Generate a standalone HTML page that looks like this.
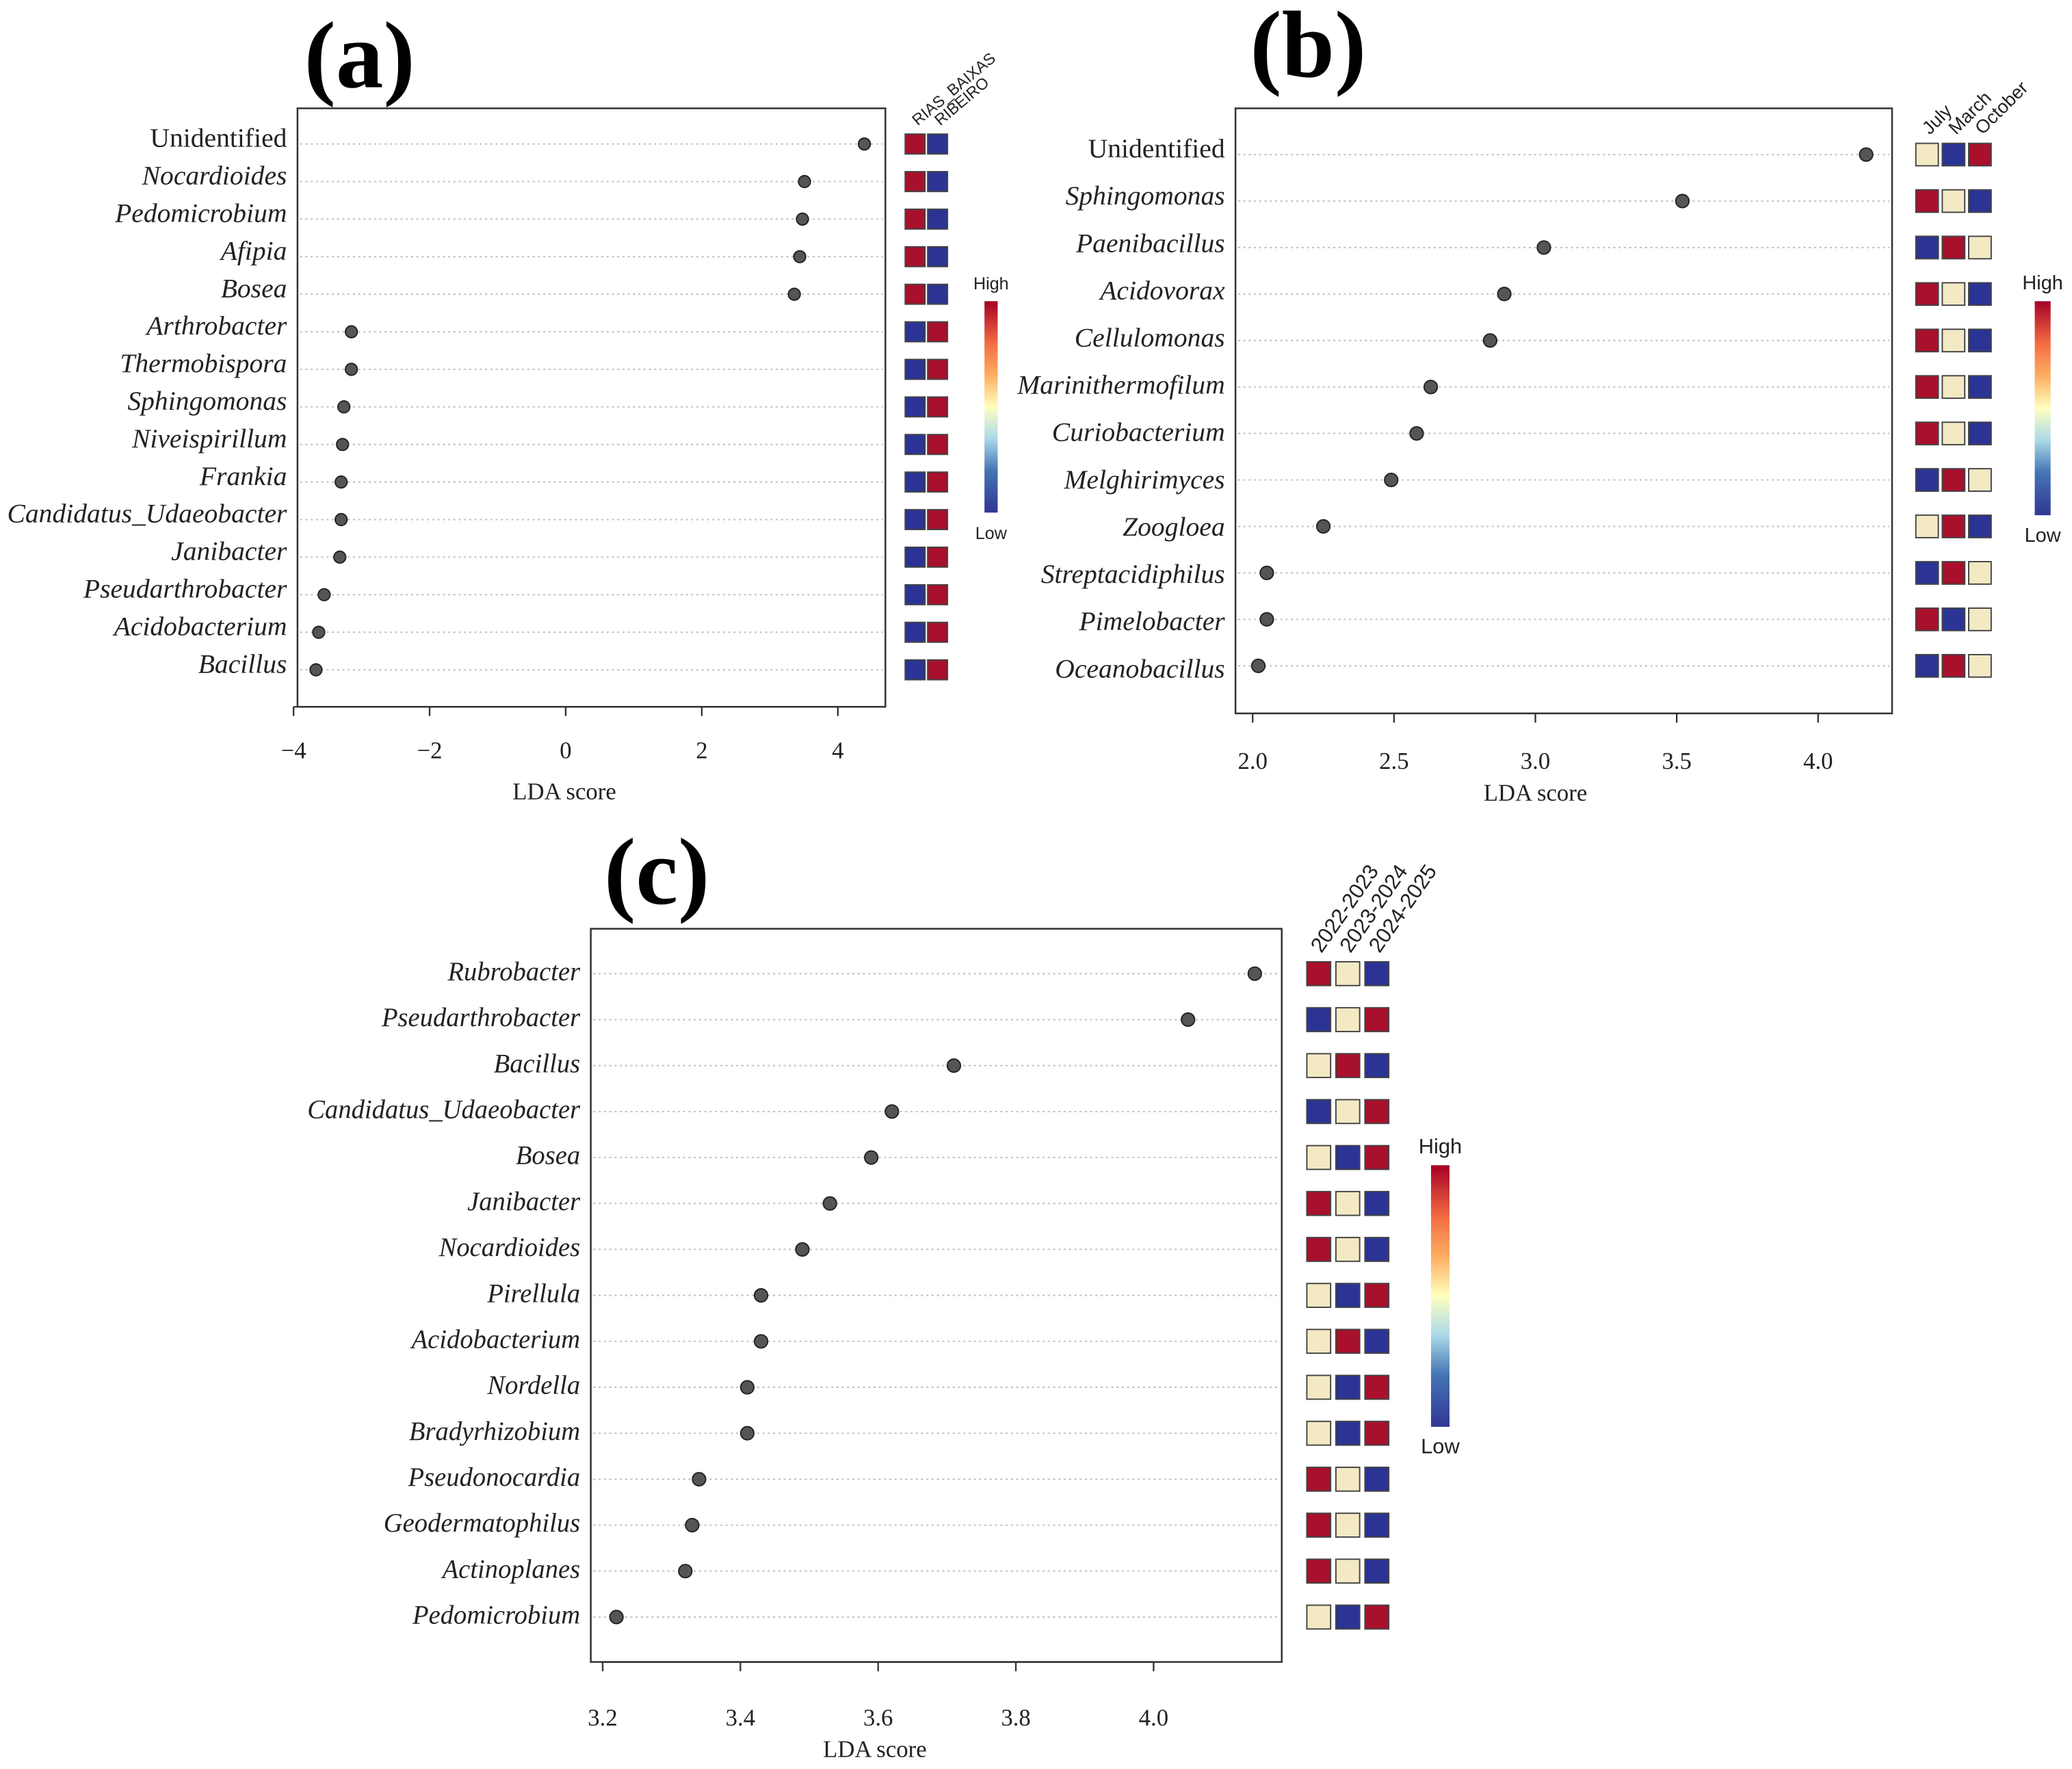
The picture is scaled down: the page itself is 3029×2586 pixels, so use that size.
<!DOCTYPE html>
<html><head><meta charset="utf-8"><style>
html,body{margin:0;padding:0;background:#fff}
svg{display:block}
text{font-family:"Liberation Serif",serif}
.sans{font-family:"Liberation Sans",sans-serif}
</style></head><body>
<svg id="fig" xmlns="http://www.w3.org/2000/svg" width="3029" height="2586" viewBox="0 0 1568 1339">
<defs>
<linearGradient id="cb" x1="0" y1="1" x2="0" y2="0">
<stop offset="0" stop-color="#313695"/><stop offset="0.2" stop-color="#4575b4"/><stop offset="0.35" stop-color="#abd9e9"/>
<stop offset="0.5" stop-color="#ffffbf"/><stop offset="0.65" stop-color="#fdae61"/><stop offset="0.8" stop-color="#f46d43"/><stop offset="1" stop-color="#a50026"/>
</linearGradient>
</defs>
</svg>
<script>
const aTaxa=["Unidentified","Nocardioides","Pedomicrobium","Afipia","Bosea","Arthrobacter","Thermobispora","Sphingomonas","Niveispirillum","Frankia","Candidatus_Udaeobacter","Janibacter","Pseudarthrobacter","Acidobacterium","Bacillus"];
const aScores=[4.39,3.51,3.48,3.44,3.36,-3.15,-3.15,-3.26,-3.28,-3.30,-3.30,-3.32,-3.55,-3.63,-3.67];
const aGroups=["RIAS_BAIXAS","RIBEIRO"];
const aHeat=[["r","b"],["r","b"],["r","b"],["r","b"],["r","b"],["b","r"],["b","r"],["b","r"],["b","r"],["b","r"],["b","r"],["b","r"],["b","r"],["b","r"],["b","r"]];
const aTicks=[-4,-2,0,2,4];
const aTickLabels=["\u22124","\u22122","0","2","4"];

const bTaxa=["Unidentified","Sphingomonas","Paenibacillus","Acidovorax","Cellulomonas","Marinithermofilum","Curiobacterium","Melghirimyces","Zoogloea","Streptacidiphilus","Pimelobacter","Oceanobacillus"];
const bScores=[4.17,3.52,3.03,2.89,2.84,2.63,2.58,2.49,2.25,2.05,2.05,2.02];
const bGroups=["July","March","October"];
const bHeat=[["c","b","r"],["r","c","b"],["b","r","c"],["r","c","b"],["r","c","b"],["r","c","b"],["r","c","b"],["b","r","c"],["c","r","b"],["b","r","c"],["r","b","c"],["b","r","c"]];
const bTicks=[2.0,2.5,3.0,3.5,4.0];
const bTickLabels=["2.0","2.5","3.0","3.5","4.0"];

const cTaxa=["Rubrobacter","Pseudarthrobacter","Bacillus","Candidatus_Udaeobacter","Bosea","Janibacter","Nocardioides","Pirellula","Acidobacterium","Nordella","Bradyrhizobium","Pseudonocardia","Geodermatophilus","Actinoplanes","Pedomicrobium"];
const cScores=[4.147,4.05,3.71,3.62,3.59,3.53,3.49,3.43,3.43,3.41,3.41,3.34,3.33,3.32,3.22];
const cGroups=["2022-2023","2023-2024","2024-2025"];
const cHeat=[["r","c","b"],["b","c","r"],["c","r","b"],["b","c","r"],["c","b","r"],["r","c","b"],["r","c","b"],["c","b","r"],["c","r","b"],["c","b","r"],["c","b","r"],["r","c","b"],["r","c","b"],["r","c","b"],["c","b","r"]];
const cTicks=[3.2,3.4,3.6,3.8,4.0];
const cTickLabels=["3.2","3.4","3.6","3.8","4.0"];

const NS="http://www.w3.org/2000/svg";
const svg=document.getElementById('fig');
const COL={r:"#a8102c",b:"#2b3494",c:"#f3eac4"};
function mk(tag,attrs,parent){const e=document.createElementNS(NS,tag);for(const k in attrs)e.setAttribute(k,attrs[k]);(parent||svg).appendChild(e);return e;}

function panel(p){
  const g=mk('g',{});
  
  
  const sx=v=>p.x0+(v-p.d0)*(p.x1-p.x0)/(p.d1-p.d0);
  const sy=i=>p.y0+i*(p.y1-p.y0)/(p.taxa.length-1);
  const t=mk('text',{x:p.tx,y:p.ty,'font-size':p.tfs,'font-weight':'bold','text-anchor':'middle'},g);t.textContent='('+p.id+')';
  
  
  const box=mk('rect',{x:p.bx0,y:p.by0,width:p.bx1-p.bx0,height:p.by1-p.by0,fill:'none',stroke:'#333','stroke-width':1.3},g);
  
  
  p.taxa.forEach((name,i)=>{
    const y=sy(i);
    const ln=mk('line',{x1:p.bx0+2,x2:p.bx1-2,y1:y,y2:y,stroke:'#bbb','stroke-width':1,'stroke-dasharray':'1.5,2.5'},g);
    
    
    const lb=mk('text',{x:p.bx0-8,y:y+p.lfs*0.3-4+p.ldy+(p.lshift?p.lshift*i:0),'font-size':p.lfs,'text-anchor':'end','font-style':name==='Unidentified'?'normal':'italic',fill:'#222'},g);
    lb.textContent=name;
    
    
    const d=mk('circle',{cx:sx(p.scores[i]),cy:y,r:p.r,fill:'#555',stroke:'#222','stroke-width':1},g);
    
    
    p.heat[i].forEach((c,j)=>{
      const s=mk('rect',{x:p.hx+j*p.hstep,y:y-p.hs/2,width:p.hs,height:p.hs,fill:COL[c],stroke:'#444','stroke-width':1},g);
      
      
    });
  });
  p.groups.forEach((gname,j)=>{
    const cx=p.hx+j*p.hstep+p.hs/2+2, cy=p.y0-p.hs/2-6;
    const h=mk('text',{x:cx,y:cy,'font-size':p.gfs,'class':'sans',transform:`rotate(${p.rot} ${cx} ${cy})`,fill:'#222'},g);
    h.textContent=gname;
    
    
  });
  p.ticks.forEach((v,k)=>{
    const x=sx(v);
    const tk=mk('line',{x1:x,x2:x,y1:p.by1,y2:p.by1+7,stroke:'#333','stroke-width':1.2},g);
    
    
    const tl=mk('text',{x:x,y:p.tly,'font-size':p.tkfs,'text-anchor':'middle',fill:'#222'},g);
    tl.textContent=p.tickLabels[k];
    
    
  });
  const ax=mk('line',{x1:sx(p.ticks[0]),x2:sx(p.ticks[p.ticks.length-1]),y1:p.by1,y2:p.by1,stroke:'#333','stroke-width':1.2},g);
  
  
  const xl=mk('text',{x:p.xlx,y:p.xly,'font-size':p.tkfs,'text-anchor':'middle',fill:'#222'},g);
  xl.textContent='LDA score';
  
  
  const cb=mk('rect',{x:p.cbx,y:p.cby0,width:p.cbw,height:p.cby1-p.cby0,fill:'url(#cb)'},g);
  
  
  const hi=mk('text',{x:p.cbx+p.cbw/2,y:p.cby0-9,'font-size':p.cfs,'text-anchor':'middle','class':'sans',fill:'#222'},g);hi.textContent='High';
  
  
  const lo=mk('text',{x:p.cbx+p.cbw/2,y:p.cby1+20,'font-size':p.cfs,'text-anchor':'middle','class':'sans',fill:'#222'},g);lo.textContent='Low';
  
  
}

panel({id:'a',taxa:aTaxa,scores:aScores,groups:aGroups,heat:aHeat,ticks:aTicks,tickLabels:aTickLabels,
 d0:-4,d1:4,x0:222,x1:634,y0:109,y1:507,bx0:225,bx1:670,by0:82,by1:535,ldy:0,
 tx:272,ty:66,tfs:72,lfs:20.5,r:4.5,hx:685,hstep:17,hs:15,gfs:12,rot:-40,tly:574,tkfs:18,xlx:427,xly:605,
 cbx:745,cbw:10,cby0:228,cby1:388,cfs:13});
panel({id:'b',taxa:bTaxa,scores:bScores,groups:bGroups,heat:bHeat,ticks:bTicks,tickLabels:bTickLabels,
 d0:2.0,d1:4.0,x0:948,x1:1376,y0:117,y1:504,bx0:935,bx1:1432,by0:82,by1:540,lshift:0.6,ldy:0,
 tx:990,ty:58,tfs:72,lfs:20.5,r:5,hx:1450,hstep:20,hs:17,gfs:14,rot:-45,tly:582,tkfs:18,xlx:1162,xly:606,
 cbx:1540,cbw:12,cby0:228,cby1:390,cfs:15});
panel({id:'c',taxa:cTaxa,scores:cScores,groups:cGroups,heat:cHeat,ticks:cTicks,tickLabels:cTickLabels,
 d0:3.2,d1:4.0,x0:456,x1:873,y0:737,y1:1224,bx0:447,bx1:970,by0:703,by1:1258,ldy:3,
 tx:497,ty:684,tfs:72,lfs:20,r:5,hx:989,hstep:22,hs:18,gfs:16,rot:-55,tly:1306,tkfs:18,xlx:662,xly:1330,
 cbx:1083,cbw:14,cby0:882,cby1:1080,cfs:16});
</script>
</body></html>
